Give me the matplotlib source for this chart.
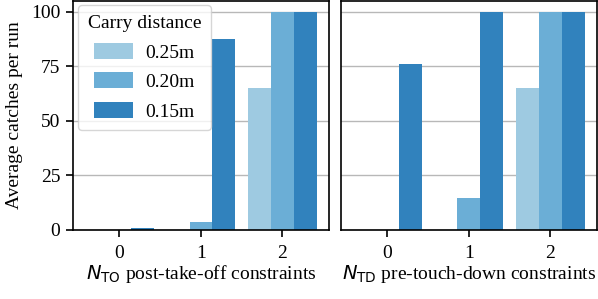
import numpy as np
import matplotlib
matplotlib.use("Agg")
import matplotlib.pyplot as plt

# ----------------------------- data -----------------------------
groups = ["0", "1", "2"]
distances = ["0.25m", "0.20m", "0.15m"]
colors = ["#9ecae1", "#6baed6", "#3182bd"]

# average catches per run, one list per carry distance
to_025 = [0, 0, 65]
to_020 = [0, 3.5, 100]
to_015 = [1, 87.5, 100]

td_025 = [0, 0, 65]
td_020 = [0, 14.5, 100]
td_015 = [76, 100, 100]

plt.rcParams["font.family"] = ["Liberation Serif", "DejaVu Serif"]
plt.rcParams["mathtext.fontset"] = "dejavusans"
plt.rcParams["font.size"] = 14


def panel(ax, series, xlabel):
    x = np.arange(len(groups))
    w = 0.28
    for k, (vals, lab, c) in enumerate(zip(series, distances, colors)):
        ax.bar(x + (k - 1) * w, vals, w, color=c, label=lab, zorder=2)
    ax.set_xticks(x)
    ax.set_xticklabels(groups)
    ax.set_xlim(-0.57, 2.57)
    ax.set_ylim(0, 105)
    ax.set_yticks([0, 25, 50, 75, 100])
    ax.grid(axis="y", color="#b8b8b8", linewidth=1.0, zorder=0)
    ax.set_axisbelow(True)
    for s in ax.spines.values():
        s.set_color("black")
        s.set_linewidth(1.2)
    ax.tick_params(axis="x", length=5, width=1.2, pad=5.5)
    ax.tick_params(axis="y", length=5, width=1.2, pad=4)
    ax.set_xlabel(xlabel, labelpad=1)


fig = plt.figure(figsize=(5.98, 2.99), dpi=100)
ax1 = fig.add_axes([0.122, 0.231, 0.428, 0.767])
ax2 = fig.add_axes([0.570, 0.231, 0.428, 0.767], sharey=ax1)

panel(ax1, [to_025, to_020, to_015], r"$N_{\mathrm{TO}}$ post-take-off constraints")
panel(ax2, [td_025, td_020, td_015], r"$N_{\mathrm{TD}}$ pre-touch-down constraints")
ax2.tick_params(axis="y", labelleft=False, length=0)
ax1.set_ylabel("Average catches per run", labelpad=6)

leg = ax1.legend(title="Carry distance", loc="upper left", fontsize=14,
                 title_fontsize=14, handlelength=2.0, handleheight=0.9,
                 labelspacing=0.55, borderpad=0.5, borderaxespad=0.25,
                 handletextpad=0.6, framealpha=0.8)
leg.get_frame().set_edgecolor("#cccccc")

fig.savefig("out.png", dpi=100)
